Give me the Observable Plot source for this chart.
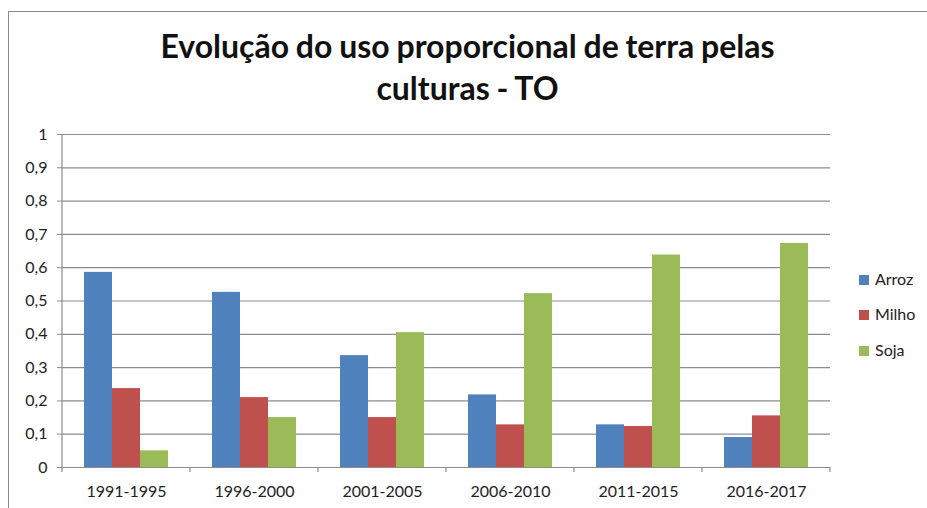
<!DOCTYPE html>
<html>
<head>
<meta charset="utf-8">
<script src="https://cdn.jsdelivr.net/npm/d3@7"></script>
<script src="https://cdn.jsdelivr.net/npm/@observablehq/plot@0.6"></script>
<style>
  html, body { margin: 0; padding: 0; background: #fff; }
  #wrap { position: relative; width: 927px; height: 508px; overflow: hidden; font-family: Lato, "Open Sans", sans-serif; }
  #border { position: absolute; left: 8px; top: 11px; width: 930px; height: 520px; border-left: 1px solid #8a8a8a; border-top: 1px solid #8a8a8a; }
  #title { position: absolute; left: 8px; width: 919px; top: 25px; text-align: center; font-weight: 700; font-size: 32px; line-height: 42px; color: #111; word-spacing: -1px; }
  #chart { position: absolute; left: 0; top: 120px; }
  .leg { position: absolute; left: 859px; font-size: 16px; color: #222; line-height: 20px; height: 20px; }
  .leg span.sw { display: inline-block; width: 10px; height: 10px; margin-right: 6px; vertical-align: 0px; }
</style>
</head>
<body>
<div id="wrap">
  <div id="border"></div>
  <div id="title">Evolução do uso proporcional de terra pelas<br>culturas - TO</div>
  <div id="chart"></div>
  <div id="legend"></div>
</div>
<script>
const periods = ["1991-1995", "1996-2000", "2001-2005", "2006-2010", "2011-2015", "2016-2017"];
const series = ["Arroz", "Milho", "Soja"];
const arroz = [0.586, 0.526, 0.336, 0.218, 0.128, 0.090];
const milho = [0.237, 0.210, 0.150, 0.128, 0.123, 0.155];
const soja  = [0.050, 0.150, 0.405, 0.522, 0.638, 0.673];
const colors = ["#4F81BD", "#C0504D", "#9BBB59"];
const yTicks = [0, 0.1, 0.2, 0.3, 0.4, 0.5, 0.6, 0.7, 0.8, 0.9, 1];

const valuesBySeries = [arroz, milho, soja];
const data = [];
periods.forEach((p, i) => {
  series.forEach((s, j) => data.push({period: p, series: s, value: valuesBySeries[j][i]}));
});

const gridColor = "#8c8c8c";
const fmt = d => String(d).replace(".", ",");

const plot = Plot.plot({
  width: 927,
  height: 388,
  marginTop: 14,
  marginBottom: 41,
  marginLeft: 62,
  marginRight: 97,
  style: {fontFamily: "Lato, 'Open Sans', sans-serif", fontSize: "16px", color: "#222", background: "transparent", overflow: "visible"},
  fx: {domain: periods, padding: 0, label: null, axis: null},
  x: {domain: series, axis: null, paddingInner: 0, paddingOuter: 0.76},
  y: {domain: [0, 1], label: null},
  color: {domain: series, range: colors},
  marks: [
    Plot.ruleY(yTicks, {stroke: gridColor, strokeWidth: 1.2}),
    Plot.barY(data, {fx: "period", x: "series", y: "value", fill: "series", inset: 0}),
    Plot.axisY({ticks: yTicks, tickFormat: fmt, tickSize: 5, tickPadding: 10, stroke: gridColor, label: null, fill: "#222"}),
    Plot.axisFx({anchor: "bottom", tickSize: 0, tickPadding: 18, label: null, fill: "#222"})
  ]
});

document.getElementById("chart").appendChild(plot);

// axis line and category-boundary ticks, positioned through the plot's own scales
const fx = plot.scale("fx");
const y = plot.scale("y");
const svg = d3.select(plot.tagName.toLowerCase() === "svg" ? plot : plot.querySelector("svg"));
const y0 = y.apply(0), y1 = y.apply(1);
const xs = periods.map(p => fx.apply(p));
xs.push(fx.apply(periods[periods.length - 1]) + fx.bandwidth);
const g = svg.append("g").attr("stroke", gridColor).attr("stroke-width", 1.2);
g.append("line").attr("x1", xs[0]).attr("x2", xs[0]).attr("y1", y1).attr("y2", y0);
g.selectAll("line.bt").data(xs).join("line").attr("class", "bt")
  .attr("x1", d => d).attr("x2", d => d).attr("y1", y0).attr("y2", y0 + 5);

// legend
const legend = document.getElementById("legend");
const legendTops = [269, 303.5, 340];
series.forEach((s, i) => {
  const div = document.createElement("div");
  div.className = "leg";
  div.style.top = legendTops[i] + "px";
  div.innerHTML = `<span class="sw" style="background:${colors[i]}"></span>${s}`;
  legend.appendChild(div);
});
</script>
</body>
</html>
